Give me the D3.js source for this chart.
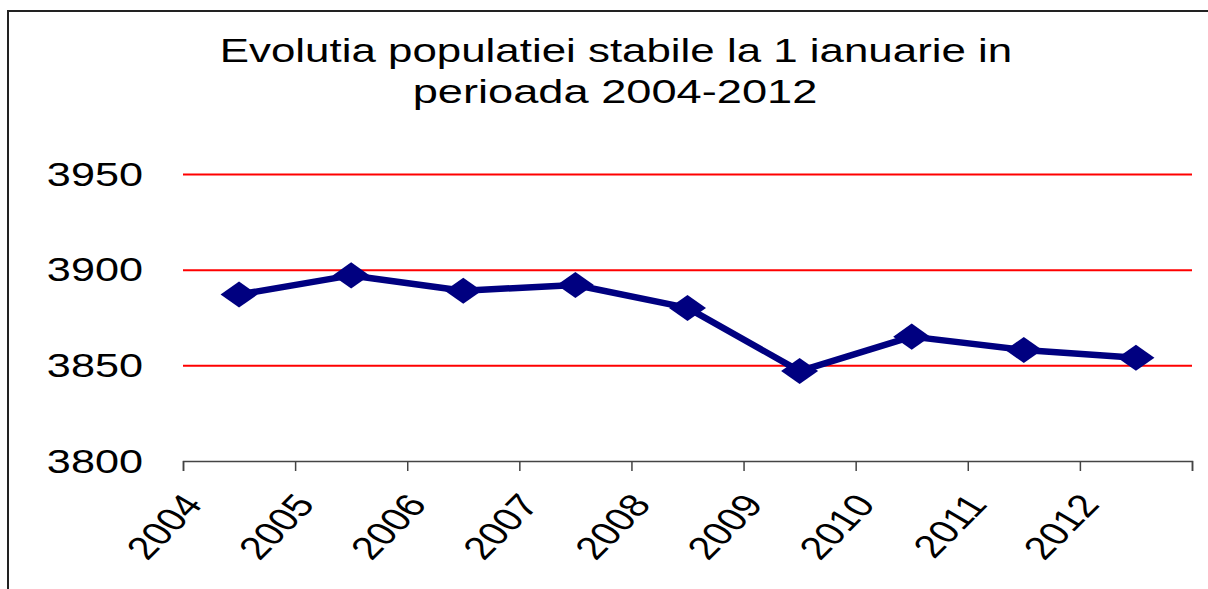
<!DOCTYPE html>
<html>
<head>
<meta charset="utf-8">
<script src="https://cdn.jsdelivr.net/npm/d3@7"></script>
<style>
  body { margin: 0; background: #fff; }
  svg { display: block; }
  text { font-family: "Liberation Sans", Arial, sans-serif; fill: #000; }
</style>
</head>
<body>
<div id="chart"></div>
<script>
// Data
const years = ['2004', '2005', '2006', '2007', '2008', '2009', '2010', '2011', '2012'];
const population = [3887, 3897, 3889, 3892, 3880, 3847, 3865, 3858, 3854];
const yTicks = [3800, 3850, 3900, 3950];
const titleLines = ['Evolutia populatiei stabile la 1 ianuarie in', 'perioada 2004-2012'];

const WIDTH = 1208;
const HEIGHT = 589;
const PLOT = { left: 183, right: 1192, top: 174, bottom: 461 };
const STRETCH = 1.31; // the original text is drawn wider than it is tall

const svg = d3.select('#chart')
    .append('svg')
    .attr('width', WIDTH)
    .attr('height', HEIGHT);

// outer frame (runs off the right and bottom)
svg.append('rect')
    .attr('x', 8)
    .attr('y', 11)
    .attr('width', WIDTH + 20)
    .attr('height', HEIGHT + 20)
    .attr('fill', '#fff')
    .attr('stroke', '#222')
    .attr('stroke-width', 2);

// title
svg.selectAll('.title')
    .data(titleLines)
    .enter()
    .append('text')
    .attr('class', 'title')
    .attr('text-anchor', 'middle')
    .attr('font-size', 33.5)
    .attr('transform', (d, i) => `translate(${616 - i}, ${62 + i * 41}) scale(${STRETCH + i * 0.04},1)`)
    .text(d => d);

const x = d3.scaleBand()
    .domain(years)
    .range([PLOT.left, PLOT.right])
    .paddingInner(0)
    .paddingOuter(0);

const y = d3.scaleLinear()
    .domain([3800, 3950])
    .range([PLOT.bottom, PLOT.top]);

// red gridlines
const grid = svg.append('g')
    .attr('class', 'grid')
    .attr('transform', `translate(${PLOT.left},0)`)
    .call(d3.axisLeft(y)
        .tickValues(yTicks.filter(v => v > 3800))
        .tickSize(-(PLOT.right - PLOT.left))
        .tickFormat(''));
grid.select('.domain').remove();
grid.selectAll('line')
    .attr('stroke', '#ff0000')
    .attr('stroke-width', 2);

// y labels
svg.selectAll('.y-label')
    .data(yTicks)
    .enter()
    .append('text')
    .attr('class', 'y-label')
    .attr('text-anchor', 'end')
    .attr('font-size', 32.5)
    .attr('dy', '0.36em')
    .attr('transform', d => `translate(143, ${y(d)}) scale(${STRETCH + 0.02},1)`)
    .text(d => d);

// x axis: ticks on the category boundaries
const edges = d3.scaleLinear()
    .domain([0, years.length])
    .range([PLOT.left, PLOT.right]);

const xAxis = svg.append('g')
    .attr('class', 'x-axis')
    .attr('transform', `translate(0, ${PLOT.bottom})`)
    .call(d3.axisBottom(edges)
        .tickValues(d3.range(years.length + 1))
        .tickSize(10)
        .tickSizeOuter(10)
        .tickFormat(''));
xAxis.select('.domain').attr('stroke', '#444').attr('stroke-width', 1.5);
xAxis.selectAll('line').attr('stroke', '#444').attr('stroke-width', 1.5);

// rotated year labels
svg.selectAll('.x-label')
    .data(years)
    .enter()
    .append('text')
    .attr('class', 'x-label')
    .attr('text-anchor', 'end')
    .attr('font-size', 32)
    .attr('transform', d => `translate(${x(d) + 21}, 505) scale(${STRETCH},1) rotate(-52.6)`)
    .text(d => d);

// the series line
const line = d3.line()
    .x((d, i) => x(years[i]) + x.bandwidth() / 2)
    .y(d => y(d));

svg.append('path')
    .datum(population)
    .attr('class', 'line')
    .attr('fill', 'none')
    .attr('stroke', '#000080')
    .attr('stroke-width', 6.5)
    .attr('stroke-linejoin', 'round')
    .attr('d', line);

// diamond markers
const diamond = d3.symbol().type(d3.symbolSquare).size(340);

svg.selectAll('.marker')
    .data(population)
    .enter()
    .append('path')
    .attr('class', 'marker')
    .attr('fill', '#000080')
    .attr('d', diamond)
    .attr('transform', (d, i) =>
        `translate(${x(years[i]) + x.bandwidth() / 2}, ${y(d)}) scale(1.42,1) rotate(45)`);
</script>
</body>
</html>
